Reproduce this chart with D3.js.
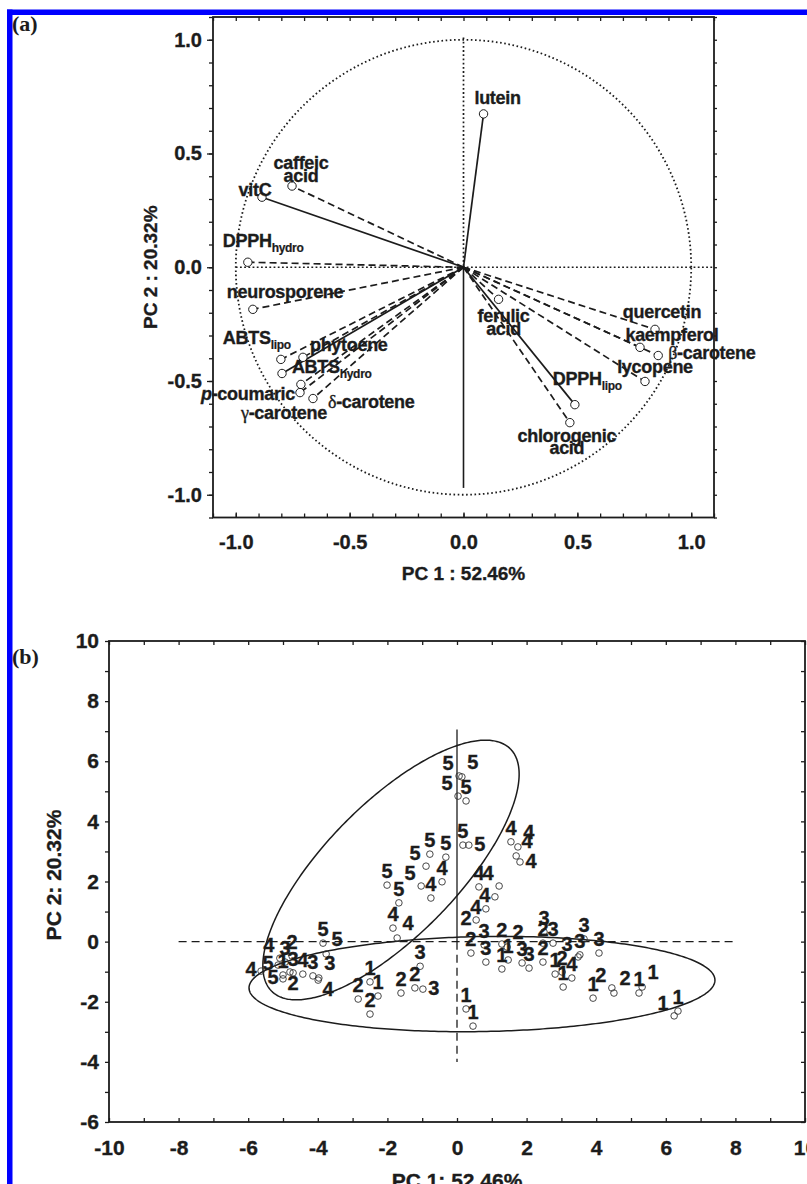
<!DOCTYPE html>
<html>
<head>
<meta charset="utf-8">
<script src="https://cdn.jsdelivr.net/npm/d3@7"></script>
<style>
  body { margin: 0; background: #fff; }
  svg { display: block; }
</style>
</head>
<body>
<svg id="chart" width="807" height="1184"></svg>
<script>
// ---- panel (a): variable loadings ----
const varLabels = ["lutein", "caffeic\nacid", "vitC", "DPPH_hydro", "neurosporene", "ABTS_lipo",
  "p-coumaric", "phytoene", "ABTS_hydro", "γ-carotene", "δ-carotene", "ferulic\nacid",
  "DPPH_lipo", "chlorogenic\nacid", "quercetin", "kaempferol", "β-carotene", "lycopene"];
const pc1Loadings = [0.088, -0.753, -0.885, -0.947, -0.925, -0.802, -0.797, -0.705, -0.714,
  -0.718, -0.661, 0.154, 0.489, 0.467, 0.841, 0.775, 0.855, 0.797];
const pc2Loadings = [0.674, 0.357, 0.308, 0.022, -0.185, -0.405, -0.467, -0.396, -0.515,
  -0.551, -0.577, -0.141, -0.604, -0.683, -0.273, -0.352, -0.388, -0.502];
const solidVars = ["lutein", "vitC", "p-coumaric", "DPPH_lipo"];

const ticksA = [-1.0, -0.5, 0.0, 0.5, 1.0];
const tickLabelsA = ["-1.0", "-0.5", "0.0", "0.5", "1.0"];

// ---- panel (b): sample scores, label = group number ----
const scoreX = [0.06, 0.14, 0.03, 0.26, 0.17, 0.34, -0.32, -0.78, -0.89, -1.03, -2.01, -1.67, -3.85, -3.76, -5.14, -5.00,
  1.55, 1.75, 1.70, 1.81, 0.63, 1.21, 1.09, 0.83, -0.43, -0.75, -1.84, -1.72, -5.63, -5.09, -4.43, -3.99, 3.30,
  0.78, 0.83, 1.87, 2.07, 2.50, 2.76, 3.65, 3.53, 3.48, 4.08, -1.06, -0.98, -4.94, -4.71, -4.14, -3.97,
  0.55, 0.40, 1.29, 1.44, 2.47, 2.47, 3.02, 4.45, 4.51, -1.61, -1.21, -2.84, -2.50, -4.74, -4.80,
  1.29, 1.47, 2.82, 3.05, 3.91, 5.32, 5.23, 6.35, 6.24, 0.26, 0.46, -2.50, -2.27, -5.00];
const scoreY = [5.51, 5.48, 4.84, 4.68, 3.21, 3.21, 2.81, 2.91, 2.51, 1.85, 1.88, 1.29, -0.05, -0.41, -0.78, -1.24,
  3.32, 3.15, 2.85, 2.65, 1.82, 1.85, 1.49, 1.09, 1.99, 1.45, 0.45, 0.12, -0.98, -0.55, -1.08, -1.28, -1.21,
  -0.11, -0.68, -0.71, -0.88, 0.32, -0.05, 0.09, -0.44, -0.51, -0.38, -0.82, -1.58, -0.68, -1.04, -1.14, -1.21,
  0.72, -0.38, -0.08, -0.18, -0.05, -0.68, -1.01, -1.54, -1.71, -1.71, -1.54, -1.91, -2.41, -0.48, -1.01,
  -0.91, -0.61, -1.08, -1.51, -1.88, -1.51, -1.71, -2.31, -2.47, -2.24, -2.81, -1.34, -1.81, -1.11];
const scoreGroup = [5, 5, 5, 5, 5, 5, 5, 5, 5, 5, 5, 5, 5, 5, 5, 5,
  4, 4, 4, 4, 4, 4, 4, 4, 4, 4, 4, 4, 4, 4, 4, 4, 4,
  3, 3, 3, 3, 3, 3, 3, 3, 3, 3, 3, 3, 3, 3, 3, 3,
  2, 2, 2, 2, 2, 2, 2, 2, 2, 2, 2, 2, 2, 2, 2,
  1, 1, 1, 1, 1, 1, 1, 1, 1, 1, 1, 1, 1, 1];
// where each number sits around its point
const labelSide = ["nw", "ne", "nw", "n", "n", "e", "n", "n", "nw", "nw", "n", "n", "n", "ne", "w", "w",
  "n", "ne", "ne", "e", "n", "nw", "w", "w", "n", "n", "n", "ne", "w", "nw", "n", "se", "n",
  "n", "n", "n", "n", "n", "n", "n", "n", "nw", "n", "n", "e", "n", "n", "n", "ne",
  "w", "n", "n", "ne", "n", "n", "n", "nw", "ne", "n", "n", "n", "n", "n", "s",
  "n", "n", "n", "n", "n", "ne", "n", "n", "nw", "n", "n", "n", "n", "n"];

// confidence ellipses (centre and two conjugate half-axes, data units)
const ellipseCentre = [[-1.897, 2.382], [0.718, -1.411]];
const ellipseAxisU = [[3.425, 4.035], [6.694, 0.135]];
const ellipseAxisV = [[1.353, -1.540], [0.024, -1.580]];

const ticksB = [-10, -8, -6, -4, -2, 0, 2, 4, 6, 8, 10];
const ticksBy = [-6, -4, -2, 0, 2, 4, 6, 8, 10];

// ---------------------------------------------------------------
const FONT = "'Liberation Sans', Arial, Helvetica, sans-serif";
const INK = "#1c1c1c";
const svg = d3.select("#chart");
svg.append("rect").attr("width", 807).attr("height", 1184).attr("fill", "#fff");

// blue page border
svg.append("rect").attr("x", 7).attr("y", 9.5).attr("width", 800).attr("height", 5.5).attr("fill", "#0000ff");
svg.append("rect").attr("x", 7).attr("y", 9.5).attr("width", 5.5).attr("height", 1175).attr("fill", "#0000ff");

// heavy bold look of the original print
function inked(sel) {
  return sel.attr("font-family", FONT).attr("font-weight", "bold").attr("fill", INK)
    .attr("stroke", INK).attr("stroke-width", 0.35);
}

function styleAxis(g, size) {
  g.select(".domain").remove();
  g.selectAll("line").attr("stroke", INK).attr("stroke-width", 1.3);
  inked(g.selectAll("text")).attr("font-size", size);
}

// ====================== panel (a) ======================
const xA = d3.scaleLinear().domain([-1.1, 1.1]).range([213, 714]);
const yA = d3.scaleLinear().domain([-1.1, 1.1]).range([517.5, 17]);
const gA = svg.append("g");
const minorA = d3.range(-11, 12).map(d => d / 10);

gA.append("g").attr("transform", `translate(${xA.range()[0]},0)`)
  .call(d3.axisLeft(yA).tickValues(minorA).tickSize(4).tickFormat("")).call(g => styleAxis(g, 20));
gA.append("g").attr("transform", `translate(${xA.range()[0]},0)`)
  .call(d3.axisLeft(yA).tickValues(ticksA).tickSize(6).tickPadding(5).tickFormat((d, i) => tickLabelsA[i]))
  .call(g => styleAxis(g, 20));
gA.append("g").attr("transform", `translate(0,${yA.range()[0]})`)
  .call(d3.axisBottom(xA).tickValues(minorA).tickSize(-4).tickFormat("")).call(g => styleAxis(g, 20));
gA.append("g").attr("transform", `translate(0,${yA.range()[0]})`)
  .call(d3.axisBottom(xA).tickValues(ticksA).tickSize(-5).tickPadding(17).tickFormat((d, i) => tickLabelsA[i]))
  .call(g => styleAxis(g, 20));
gA.append("g").attr("transform", `translate(0,${yA.range()[1]})`)
  .call(d3.axisTop(xA).tickValues(minorA).tickSize(-4).tickFormat("")).call(g => styleAxis(g, 20));
gA.append("g").attr("transform", `translate(${xA.range()[1]},0)`)
  .call(d3.axisRight(yA).tickValues(minorA).tickSize(3).tickFormat("")).call(g => styleAxis(g, 20));

gA.append("rect").attr("x", xA.range()[0]).attr("y", yA.range()[1])
  .attr("width", xA.range()[1] - xA.range()[0]).attr("height", yA.range()[0] - yA.range()[1])
  .attr("fill", "none").attr("stroke", INK).attr("stroke-width", 1.8);

// unit circle and reference lines
const circlePts = d3.range(0, 361, 1).map(a => [Math.cos(a * Math.PI / 180), Math.sin(a * Math.PI / 180)]);
const lineA = d3.line().x(d => xA(d[0])).y(d => yA(d[1]));
gA.append("path").attr("d", lineA(circlePts)).attr("fill", "none").attr("stroke", INK)
  .attr("stroke-width", 1.8).attr("stroke-dasharray", "1.6,2.6");
gA.append("path").attr("d", lineA([[-1, 0], [1.1, 0]])).attr("fill", "none").attr("stroke", INK)
  .attr("stroke-width", 1.7).attr("stroke-dasharray", "1.8,2.4");
gA.append("path").attr("d", lineA([[0, 1.01], [0, 0]])).attr("fill", "none").attr("stroke", INK)
  .attr("stroke-width", 1.7).attr("stroke-dasharray", "1.8,2.4");
gA.append("path").attr("d", lineA([[0, 0], [0, -0.97]])).attr("fill", "none").attr("stroke", INK)
  .attr("stroke-width", 1.6);

const loadings = varLabels.map((lab, i) => ({
  lab, key: lab.replace("\n", " "), x: pc1Loadings[i], y: pc2Loadings[i]
}));

gA.selectAll(".vec").data(loadings).enter().append("path")
  .attr("d", d => lineA([[0, 0], [d.x, d.y]]))
  .attr("fill", "none").attr("stroke", INK).attr("stroke-width", 1.7)
  .attr("stroke-dasharray", d => solidVars.includes(d.key) ? null : "7,4");

gA.selectAll(".pt").data(loadings).enter().append("circle")
  .attr("cx", d => xA(d.x)).attr("cy", d => yA(d.y)).attr("r", 4.2)
  .attr("fill", "#fff").attr("stroke", INK).attr("stroke-width", 1);

// label placement: anchor, dx, dy (baseline) in px from the point
const labelPlace = {
  "lutein": ["middle", 14, -10], "caffeic acid": ["middle", 9, -17], "vitC": ["middle", -7, -1],
  "DPPH_hydro": ["start", -25, -15], "neurosporene": ["start", -26, -11], "ABTS_lipo": ["start", -58, -15],
  "p-coumaric": ["end", 13, 27], "phytoene": ["start", 7, -6], "ABTS_hydro": ["start", -9, -11],
  "γ-carotene": ["middle", -16, 26], "δ-carotene": ["start", 15, 9], "ferulic acid": ["middle", 5, 23],
  "DPPH_lipo": ["start", -22, -20], "chlorogenic acid": ["middle", -3, 19], "quercetin": ["middle", 7, -11],
  "kaempferol": ["middle", 32, -6], "β-carotene": ["start", 10, 3], "lycopene": ["middle", 10, -8]
};

function writeLine(t, s) {
  const greek = s.match(/^([γδβ])(.*)$/);
  if (greek) {
    t.append("tspan").attr("font-family", "'Liberation Serif', 'DejaVu Serif', serif").attr("font-weight", "normal").text(greek[1]);
    t.append("tspan").text(greek[2]);
  } else if (s.startsWith("p-")) {
    t.append("tspan").attr("font-style", "italic").text("p");
    t.append("tspan").text(s.slice(1));
  } else if (s.includes("_")) {
    const [main, sub] = s.split("_");
    t.append("tspan").text(main);
    t.append("tspan").attr("font-size", 12).attr("dy", 5).attr("stroke-width", 0.2).text(sub);
  } else {
    t.text(s);
  }
}

loadings.forEach(d => {
  const [anchor, dx, dy] = labelPlace[d.key];
  d.lab.split("\n").forEach((s, j) => {
    const t = inked(gA.append("text"))
      .attr("x", xA(d.x) + dx).attr("y", yA(d.y) + dy + j * 12.5)
      .attr("text-anchor", anchor).attr("font-size", 18).attr("letter-spacing", -0.3);
    writeLine(t, s);
  });
});

inked(gA.append("text")).attr("x", (xA.range()[0] + xA.range()[1]) / 2).attr("y", 580)
  .attr("text-anchor", "middle").attr("font-size", 19).text("PC 1 : 52.46%");
inked(gA.append("text")).attr("transform", `translate(157,${(yA.range()[0] + yA.range()[1]) / 2}) rotate(-90)`)
  .attr("text-anchor", "middle").attr("font-size", 19).text("PC 2 : 20.32%");
svg.append("text").attr("x", 12).attr("y", 31).attr("font-family", "'Liberation Serif', 'Times New Roman', serif")
  .attr("font-weight", "bold").attr("font-size", 22).attr("fill", INK).text("(a)");

// ====================== panel (b) ======================
const xB = d3.scaleLinear().domain([-10, 10]).range([109, 805]);
const yB = d3.scaleLinear().domain([-6, 10]).range([1122, 641]);
const gB = svg.append("g");
const minorBx = d3.range(-10, 11);
const minorBy = d3.range(-6, 11);

gB.append("g").attr("transform", `translate(${xB.range()[0]},0)`)
  .call(d3.axisLeft(yB).tickValues(minorBy).tickSize(4).tickPadding(6).tickFormat(d => ticksBy.includes(d) ? d : ""))
  .call(g => styleAxis(g, 21));
gB.append("g").attr("transform", `translate(0,${yB.range()[0]})`)
  .call(d3.axisBottom(xB).tickValues(minorBx).tickSize(-4).tickPadding(18).tickFormat(d => ticksB.includes(d) ? d : ""))
  .call(g => styleAxis(g, 21));
gB.append("g").attr("transform", `translate(0,${yB.range()[1]})`)
  .call(d3.axisTop(xB).tickValues(minorBx).tickSize(-4).tickFormat("")).call(g => styleAxis(g, 21));
gB.append("g").attr("transform", `translate(${xB.range()[1]},0)`)
  .call(d3.axisRight(yB).tickValues(minorBy).tickSize(-4).tickFormat("")).call(g => styleAxis(g, 21));

gB.append("rect").attr("x", xB.range()[0]).attr("y", yB.range()[1])
  .attr("width", xB.range()[1] - xB.range()[0]).attr("height", yB.range()[0] - yB.range()[1])
  .attr("fill", "none").attr("stroke", INK).attr("stroke-width", 1.8);

const lineB = d3.line().x(d => xB(d[0])).y(d => yB(d[1]));
gB.append("path").attr("d", lineB([[-8, 0], [8, 0]])).attr("fill", "none").attr("stroke", INK)
  .attr("stroke-width", 1.3).attr("stroke-dasharray", "8,5");
gB.append("path").attr("d", lineB([[0, 0], [0, -4]])).attr("fill", "none").attr("stroke", INK)
  .attr("stroke-width", 1.3).attr("stroke-dasharray", "8,5");
gB.append("path").attr("d", lineB([[0, 7.06], [0, 0]])).attr("fill", "none").attr("stroke", INK)
  .attr("stroke-width", 1.3);

ellipseCentre.forEach((c, k) => {
  const u = ellipseAxisU[k], v = ellipseAxisV[k];
  const pts = d3.range(0, 361, 1).map(a => {
    const t = a * Math.PI / 180;
    return [c[0] + u[0] * Math.cos(t) + v[0] * Math.sin(t), c[1] + u[1] * Math.cos(t) + v[1] * Math.sin(t)];
  });
  gB.append("path").attr("d", lineB(pts)).attr("fill", "none").attr("stroke", INK).attr("stroke-width", 1.5);
});

const scores = scoreX.map((x, i) => ({ x, y: scoreY[i], g: scoreGroup[i], side: labelSide[i] }));
const sideOffset = { n: [0, -14], ne: [11, -15], nw: [-11, -13], e: [11, -1], w: [-10, -2], s: [3, 11], se: [10, 9] };

gB.selectAll(".sc").data(scores).enter().append("circle")
  .attr("cx", d => xB(d.x)).attr("cy", d => yB(d.y)).attr("r", 3.3)
  .attr("fill", "none").attr("stroke", "#333").attr("stroke-width", 0.9);

inked(gB.selectAll(".sl").data(scores).enter().append("text"))
  .attr("x", d => xB(d.x) + sideOffset[d.side][0])
  .attr("y", d => yB(d.y) + sideOffset[d.side][1] + 7)
  .attr("text-anchor", "middle").attr("font-size", 20).text(d => d.g);

inked(gB.append("text")).attr("x", (xB.range()[0] + xB.range()[1]) / 2).attr("y", 1188)
  .attr("text-anchor", "middle").attr("font-size", 21).text("PC 1: 52.46%");
inked(gB.append("text")).attr("transform", `translate(61,875) rotate(-90)`)
  .attr("text-anchor", "middle").attr("font-size", 21).text("PC 2: 20.32%");
svg.append("text").attr("x", 12).attr("y", 664).attr("font-family", "'Liberation Serif', 'Times New Roman', serif")
  .attr("font-weight", "bold").attr("font-size", 22).attr("fill", INK).text("(b)");
</script>
</body>
</html>
